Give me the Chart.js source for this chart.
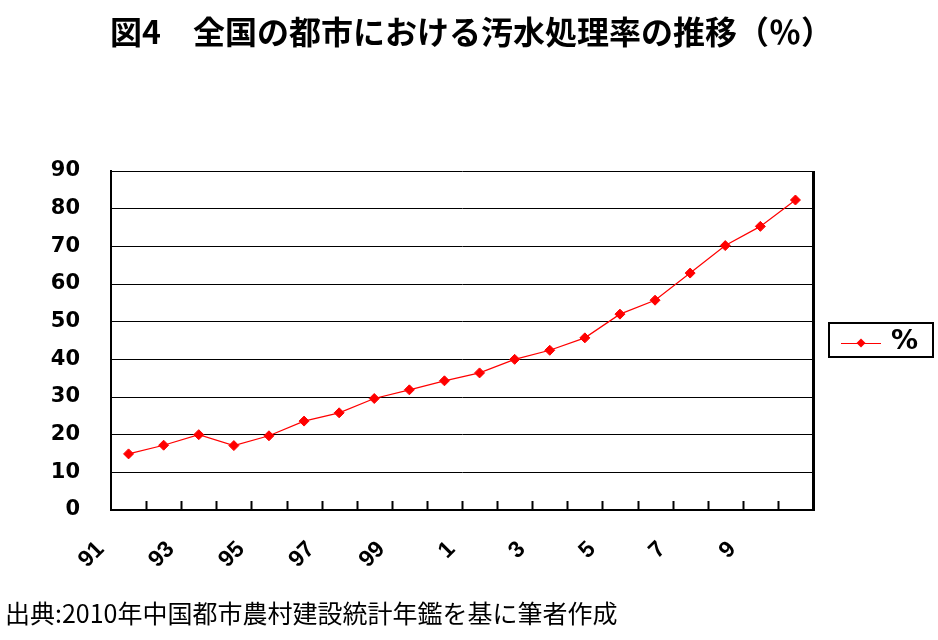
<!DOCTYPE html>
<html>
<head>
<meta charset="utf-8">
<script src="https://cdn.jsdelivr.net/npm/chart.js@4"></script>
<style>
  html, body { margin: 0; padding: 0; background: #fff; }
  #wrap { width: 938px; height: 640px; }
</style>
</head>
<body>
<div id="wrap"><canvas id="sewage__chart"></canvas></div>
<script>
const YEARS = ["91", "92", "93", "94", "95", "96", "97", "98", "99", "0",
  "1", "2", "3", "4", "5", "6", "7", "8", "9", "10"];
const RATE = [14.9, 17.2, 20.0, 17.1, 19.7, 23.6, 25.8, 29.6, 31.9, 34.3,
  36.4, 40.0, 42.4, 45.7, 52.0, 55.7, 62.9, 70.2, 75.3, 82.3];
const Y_TICKS = [0, 10, 20, 30, 40, 50, 60, 70, 80, 90];
const SERIES_LABEL = "%";

// short inward ticks between categories + thick right border
const framePlugin = {
  id: "frame",
  afterDraw(chart) {
    const { ctx, chartArea } = chart;
    const x = chart.scales.x;
    ctx.save();
    ctx.strokeStyle = "#000";
    ctx.lineWidth = 2;
    for (let i = 1; i < YEARS.length; i++) {
      const px = Math.round((x.getPixelForValue(i - 1) + x.getPixelForValue(i)) / 2) + 0.5;
      ctx.beginPath();
      ctx.moveTo(px, chartArea.bottom);
      ctx.lineTo(px, chartArea.bottom - 9);
      ctx.stroke();
    }
    ctx.lineWidth = 3;
    ctx.beginPath();
    ctx.moveTo(chartArea.right + 0.5, chartArea.top);
    ctx.lineTo(chartArea.right + 0.5, chartArea.bottom + 1);
    ctx.stroke();
    ctx.restore();
  },
};

// boxed legend with line + marker
const legendBoxPlugin = {
  id: "legendBox",
  afterDraw(chart) {
    const { ctx } = chart;
    const ds = chart.data.datasets[0];
    const left = 829, top = 323, w = 104, h = 34;
    ctx.save();
    ctx.strokeStyle = "#000";
    ctx.lineWidth = 2;
    ctx.strokeRect(left, top, w, h);
    const my = top + 20;
    ctx.strokeStyle = ds.borderColor;
    ctx.lineWidth = 1;
    ctx.beginPath();
    ctx.moveTo(left + 12, my + 0.5);
    ctx.lineTo(left + 52, my + 0.5);
    ctx.stroke();
    ctx.fillStyle = ds.pointBackgroundColor;
    ctx.beginPath();
    ctx.moveTo(left + 32, my - 4.5);
    ctx.lineTo(left + 36.5, my);
    ctx.lineTo(left + 32, my + 4.5);
    ctx.lineTo(left + 27.5, my);
    ctx.closePath();
    ctx.fill();
    ctx.fillStyle = "#000";
    ctx.font = "bold 27px 'DejaVu Sans'";
    ctx.textBaseline = "middle";
    ctx.fillText(ds.label, left + 62, my - 1);
    ctx.restore();
  },
};

new Chart(document.getElementById("sewage__chart"), {
  type: "line",
  data: {
    labels: YEARS,
    datasets: [
      {
        label: SERIES_LABEL,
        data: RATE,
        borderColor: "#FF0000",
        borderWidth: 1.2,
        pointStyle: "rectRot",
        pointRadius: 5,
        pointBackgroundColor: "#FF0000",
        pointBorderColor: "#FF0000",
        pointBorderWidth: 1,
        tension: 0,
      },
    ],
  },
  options: {
    responsive: true,
    maintainAspectRatio: false,
    animation: false,
    layout: {
      padding: { left: 5, right: 0, top: 0, bottom: 0 },
    },
    plugins: {
      legend: { display: false },
      tooltip: { enabled: false },
      title: {
        display: true,
        text: "図4　全国の都市における汚水処理率の推移（％）",
        color: "#000",
        font: { family: "'Noto Sans CJK JP'", size: 32, weight: "bold" },
        padding: { top: 13, bottom: 119.6 },
      },
      subtitle: {
        display: true,
        position: "bottom",
        align: "start",
        text: "出典:2010年中国都市農村建設統計年鑑を基に筆者作成",
        color: "#000",
        font: { family: "'Noto Sans CJK JP'", size: 25, weight: "normal" },
        padding: { top: 0, bottom: 12 },
      },
    },
    scales: {
      x: {
        offset: true,
        grid: { display: false },
        border: { display: true, color: "#000", width: 2 },
        afterFit(scale) {
          scale.height = 88;
        },
        ticks: {
          autoSkip: false,
          minRotation: 45,
          maxRotation: 45,
          labelOffset: -28,
          padding: 18,
          color: "#000",
          font: { family: "'Liberation Sans'", size: 23, weight: "bold" },
          callback: function (value, index) {
            return index % 2 === 0 ? YEARS[index] : "";
          },
        },
      },
      y: {
        min: 0,
        max: 90,
        afterFit(scale) {
          scale.width = 106;
        },
        afterBuildTicks(scale) {
          scale.ticks = Y_TICKS.map((v) => ({ value: v }));
        },
        grid: {
          color: "#000",
          lineWidth: 1,
          drawTicks: false,
        },
        border: { display: true, color: "#000", width: 2 },
        ticks: {
          padding: 31,
          color: "#000",
          font: { family: "'DejaVu Sans'", size: 21, weight: "bold" },
        },
      },
      // empty right-hand strip that holds the legend box
      legendSpace: {
        position: "right",
        display: true,
        afterFit(scale) {
          scale.width = 125;
        },
        grid: { drawOnChartArea: false, drawTicks: false },
        border: { display: false },
        ticks: { display: false },
      },
    },
  },
  plugins: [framePlugin, legendBoxPlugin],
});
</script>
</body>
</html>
